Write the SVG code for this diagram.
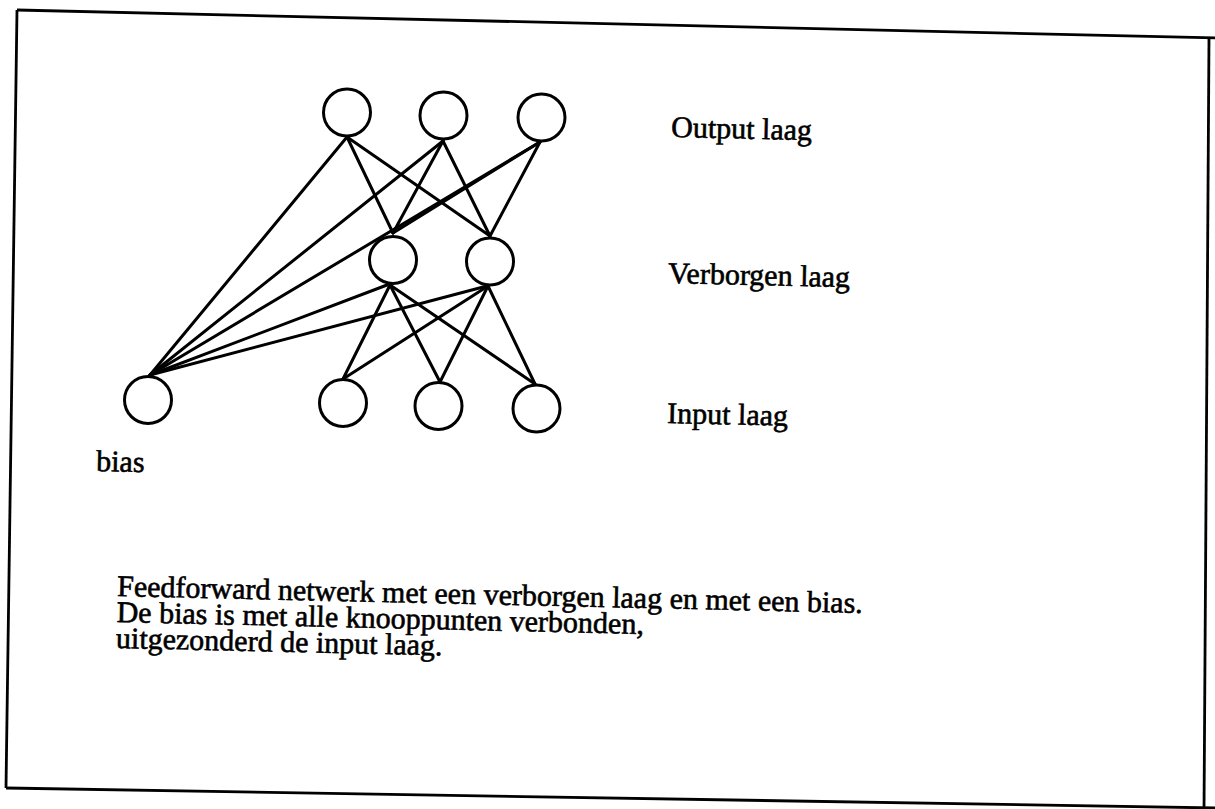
<svg xmlns="http://www.w3.org/2000/svg" width="1215" height="809" viewBox="0 0 1215 809">
  <style>
    .node { fill: #ffffff; stroke: #000000; stroke-width: 3; }
    .edge { stroke: #000000; stroke-width: 3; fill: none; stroke-linecap: round; }
    .frame { fill: none; stroke: #000000; stroke-width: 2.8; }
    .lbl { font-family: "Liberation Serif", "Times New Roman", serif; font-size: 30px; fill: #000000; stroke: #000000; stroke-width: 0.6; }
  </style>
  <rect x="0" y="0" width="1215" height="809" fill="#ffffff"/>

  <!-- outer frame -->
  <g id="frame">
    <polyline class="frame" points="17,10 1217,38"/>
    <polyline class="frame" points="17,10 6,788"/>
    <polyline class="frame" points="6,788 1217,808"/>
    <polyline class="frame" points="1209,38 1204,812"/>
  </g>

  <!-- connections -->
  <g id="connectors">
    <!-- output layer to hidden layer -->
    <line class="edge" x1="347" y1="137" x2="393" y2="233"/>
    <line class="edge" x1="347" y1="137" x2="490" y2="236"/>
    <line class="edge" x1="443" y1="141" x2="393" y2="233"/>
    <line class="edge" x1="443" y1="141" x2="490" y2="236"/>
    <line class="edge" x1="540" y1="142" x2="393" y2="233"/>
    <line class="edge" x1="540" y1="142" x2="490" y2="236"/>
    <!-- bias to output and hidden layer -->
    <line class="edge" x1="150" y1="375" x2="347" y2="137"/>
    <line class="edge" x1="150" y1="375" x2="443" y2="141"/>
    <line class="edge" x1="150" y1="375" x2="540" y2="142"/>
    <line class="edge" x1="150" y1="375" x2="387" y2="285"/>
    <line class="edge" x1="150" y1="375" x2="487" y2="286"/>
    <!-- hidden layer to input layer -->
    <line class="edge" x1="390" y1="285" x2="343" y2="379"/>
    <line class="edge" x1="390" y1="285" x2="440" y2="382"/>
    <line class="edge" x1="390" y1="285" x2="535" y2="384"/>
    <line class="edge" x1="488" y1="286" x2="343" y2="379"/>
    <line class="edge" x1="488" y1="286" x2="440" y2="382"/>
    <line class="edge" x1="488" y1="286" x2="535" y2="384"/>
  </g>

  <!-- output layer -->
  <g id="out1"><circle class="node" cx="347" cy="112.5" r="23.5"/></g>
  <g id="out2"><circle class="node" cx="443.5" cy="115.5" r="23.5"/></g>
  <g id="out3"><circle class="node" cx="541.5" cy="117.5" r="23.5"/></g>

  <!-- hidden layer -->
  <g id="hid1"><circle class="node" cx="393" cy="260" r="23.5"/></g>
  <g id="hid2"><circle class="node" cx="490" cy="261.5" r="23.5"/></g>

  <!-- input layer -->
  <g id="in1"><circle class="node" cx="343" cy="403" r="23.5"/></g>
  <g id="in2"><circle class="node" cx="438.5" cy="406" r="23.5"/></g>
  <g id="in3"><circle class="node" cx="536.5" cy="408.5" r="23.5"/></g>

  <!-- bias node -->
  <g id="bias">
    <circle class="node" cx="148" cy="400" r="23.5"/>
    <text class="lbl" x="96" y="471" transform="rotate(1.3 96 471)">bias</text>
  </g>

  <!-- layer labels -->
  <g id="labels">
    <text class="lbl" x="671" y="137" transform="rotate(1.3 671 137)">Output laag</text>
    <text class="lbl" x="668" y="283" transform="rotate(1.3 668 283)">Verborgen laag</text>
    <text class="lbl" x="667" y="423" transform="rotate(1.3 667 423)">Input laag</text>
  </g>

  <!-- caption -->
  <g id="caption" transform="rotate(1.3 117 596)">
    <text class="lbl" x="117" y="596">Feedforward netwerk met een verborgen laag en met een bias.</text>
    <text class="lbl" x="117" y="622">De bias is met alle knooppunten verbonden,</text>
    <text class="lbl" x="117" y="648">uitgezonderd de input laag.</text>
  </g>
</svg>
